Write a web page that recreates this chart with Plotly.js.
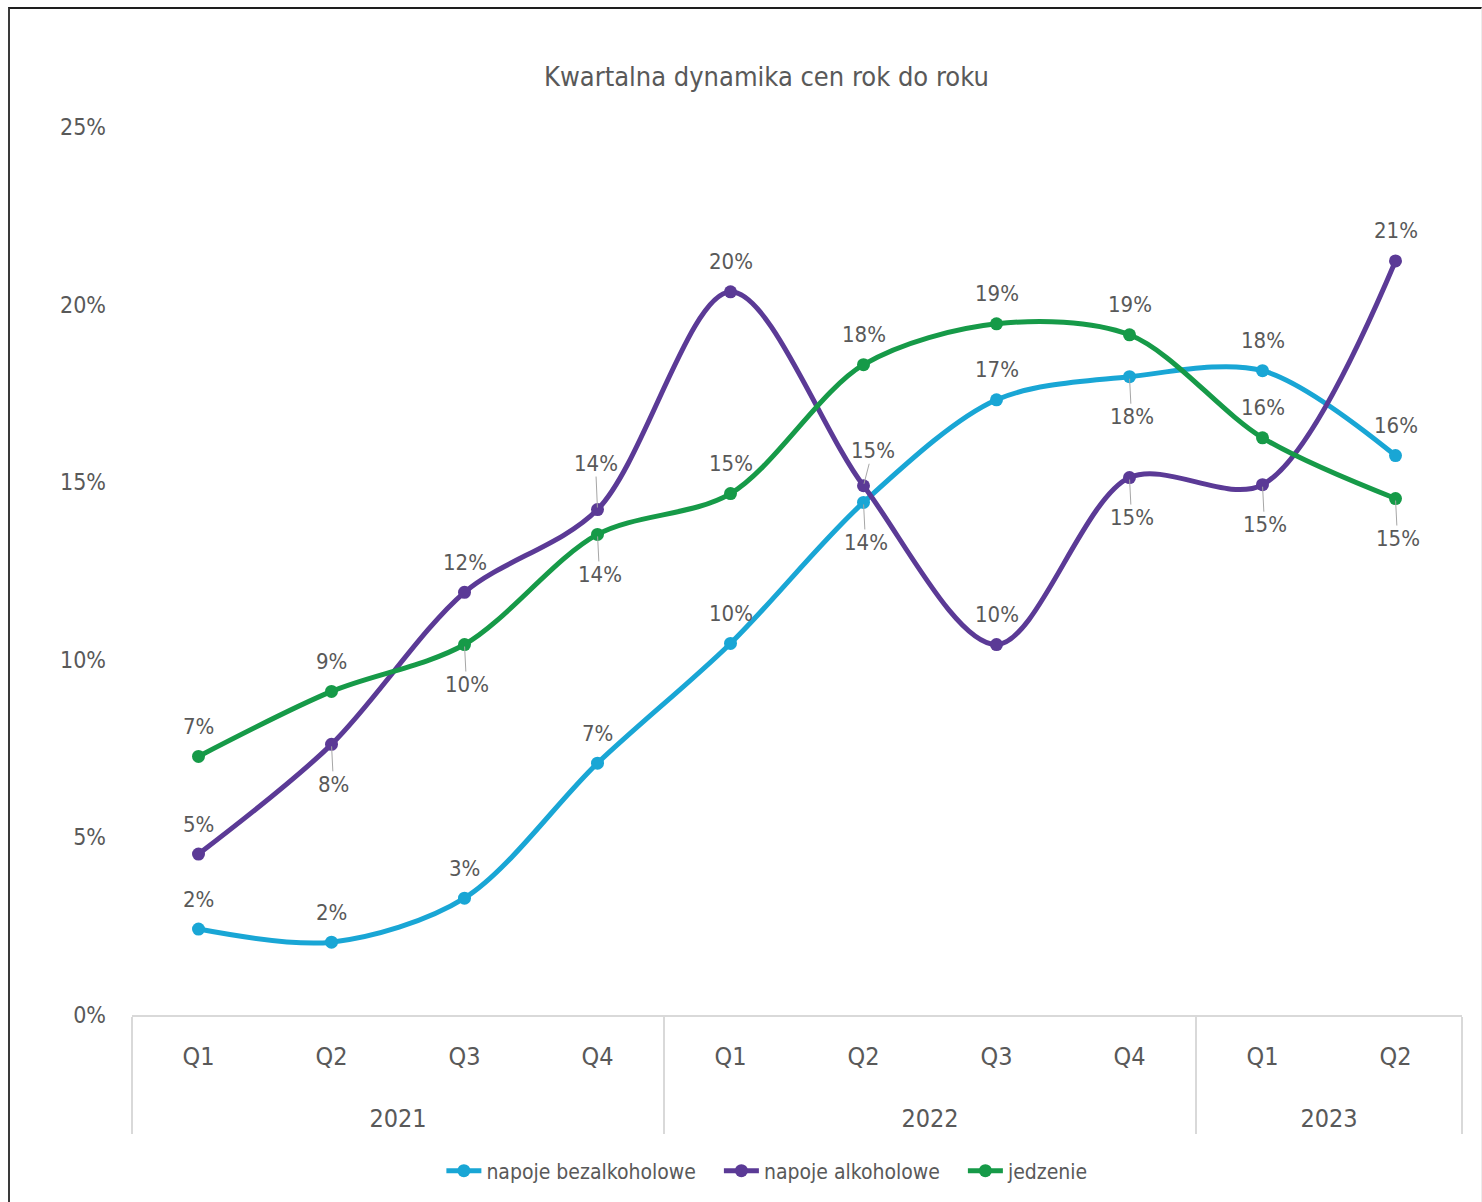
<!DOCTYPE html>
<html>
<head>
<meta charset="utf-8">
<script src="https://cdn.plot.ly/plotly-3.0.1.min.js"></script>
<style>
  html, body { margin: 0; padding: 0; background: #ffffff; }
  #wrap { position: relative; width: 1482px; height: 1202px; overflow: hidden; }
  #chart { position: absolute; left: 0; top: 0; width: 1482px; height: 1202px; }
  #frame { position: absolute; left: 8px; top: 7px; width: 1474px; height: 1200px;
           border-left: 2px solid #3a3a3a; border-top: 2px solid #1e1e1e;
           border-right: 1px solid #ececec; pointer-events: none; box-sizing: border-box; }
</style>
</head>
<body>
<div id="wrap">
  <div id="chart"></div>
  <div id="frame"></div>
</div>
<script>
// Quarterly year-on-year price change, in percent
const years    = ['2021', '2021', '2021', '2021', '2022', '2022', '2022', '2022', '2023', '2023'];
const quarters = ['Q1', 'Q2', 'Q3', 'Q4', 'Q1', 'Q2', 'Q3', 'Q4', 'Q1', 'Q2'];

const softDrinks    = [2.42, 2.05, 3.29, 7.09, 10.46, 14.43, 17.32, 17.97, 18.14, 15.75];
const alcoholDrinks = [4.53, 7.62, 11.90, 14.23, 20.36, 14.90, 10.43, 15.13, 14.93, 21.23];
const food          = [7.28, 9.11, 10.43, 13.53, 14.68, 18.31, 19.46, 19.15, 16.25, 14.54];

const seriesNames = ['napoje bezalkoholowe', 'napoje alkoholowe', 'jedzenie'];
const yTicks = [0, 5, 10, 15, 20, 25];

// Label placement per point: 'u' = above, 'd' = below with leader, 'U' = above with leader, 'R' = upper right with leader
const placeSoft    = ['u', 'u', 'u', 'u', 'u', 'd', 'u', 'd', 'u', 'u'];
const placeAlcohol = ['u', 'd', 'u', 'U', 'u', 'R', 'u', 'd', 'd', 'u'];
const placeFood    = ['u', 'u', 'd', 'd', 'u', 'u', 'u', 'u', 'u', 'd'];

const colors = ['#19a6d5', '#5b3a96', '#169a48'];
const FONT = '"Liberation Sans Narrow", "DejaVu Sans Condensed", "Noto Sans", sans-serif';
const textColor = '#595959';

// quarter labels carry a tall blank second line so the year row sits lower
const quarterRow = quarters.map(q => q + '<br><span style="font-size:67px">&nbsp;</span>');
const xCats = [years, quarterRow];
const seriesValues = [softDrinks, alcoholDrinks, food];
const placements = [placeSoft, placeAlcohol, placeFood];

const traces = seriesValues.map((vals, i) => ({
  type: 'scatter',
  mode: 'lines+markers',
  name: seriesNames[i] + '&nbsp;&nbsp;&nbsp;',
  x: xCats,
  y: vals,
  line: { color: colors[i], width: 5, shape: 'spline', smoothing: 0.9 },
  marker: { color: colors[i], size: 13 },
  hoverinfo: 'skip'
}));

const annotations = [];
seriesValues.forEach((vals, s) => {
  vals.forEach((v, k) => {
    const p = placements[s][k];
    let ax = 0, ay = -30, leader = false;
    if (p === 'd') { ax = 2; ay = 40; leader = true; }
    if (p === 'U') { ax = -2; ay = -46; leader = true; }
    if (p === 'R') { ax = 9; ay = -35; leader = true; }
    annotations.push({
      x: [years[k], quarterRow[k]],
      y: v,
      xref: 'x', yref: 'y',
      text: Math.round(v) + '%',
      showarrow: true,
      arrowhead: 0,
      arrowwidth: 1,
      standoff: 2,
      arrowcolor: leader ? '#a6a6a6' : 'rgba(0,0,0,0)',
      ax: ax, ay: ay,
      axref: 'pixel', ayref: 'pixel',
      font: { family: FONT, size: 22, color: textColor },
      bgcolor: 'rgba(0,0,0,0)',
      borderpad: 0
    });
  });
});

const layout = {
  width: 1482,
  height: 1202,
  paper_bgcolor: '#ffffff',
  plot_bgcolor: '#ffffff',
  margin: { l: 132, r: 20, t: 127, b: 186 },
  font: { family: FONT, size: 22, color: textColor },
  title: {
    text: 'Kwartalna dynamika cen rok do roku',
    font: { family: FONT, size: 27, color: textColor },
    xref: 'paper', x: 0.477, xanchor: 'center',
    yref: 'container', y: 1 - 77 / 1202, yanchor: 'middle'
  },
  xaxis: {
    type: 'multicategory',
    range: [-0.5, 9.5],
    showline: true,
    linecolor: '#d9d9d9',
    linewidth: 2,
    showgrid: false,
    zeroline: false,
    ticks: '',
    showdividers: true,
    dividercolor: '#d9d9d9',
    dividerwidth: 1.5,
    tickfont: { family: FONT, size: 25, color: textColor },
    ticklabelstandoff: 18,
    fixedrange: true
  },
  yaxis: {
    range: [0, 25],
    tickvals: yTicks,
    ticktext: yTicks.map(t => t + '%'),
    showline: false,
    showgrid: false,
    zeroline: false,
    ticks: '',
    ticklabelstandoff: 25,
    tickfont: { family: FONT, size: 23, color: textColor },
    fixedrange: true
  },
  showlegend: true,
  legend: {
    orientation: 'h',
    x: 0.4845, xanchor: 'center',
    y: (1016 - 1171) / 889, yanchor: 'middle',
    font: { family: FONT, size: 21, color: textColor },
    itemwidth: 35,
    tracegroupgap: 0,
    bgcolor: 'rgba(0,0,0,0)'
  },
  annotations: annotations
};

Plotly.newPlot('chart', traces, layout, { staticPlot: true, displayModeBar: false });
</script>
</body>
</html>
